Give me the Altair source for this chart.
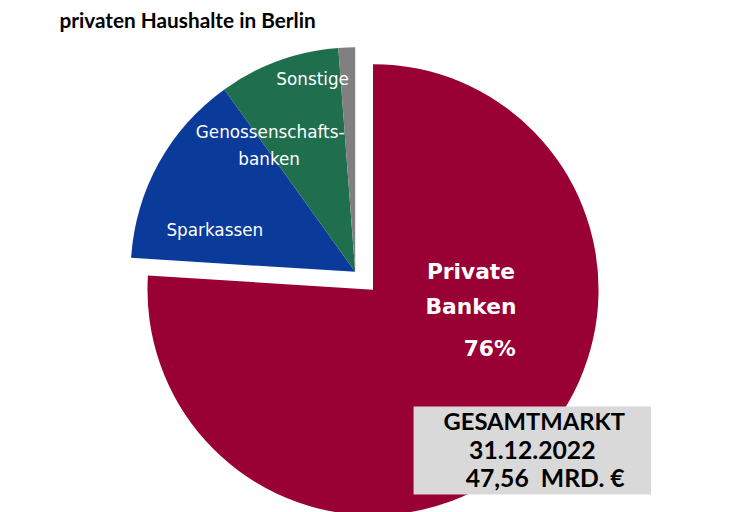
import altair as alt
import pandas as pd

categories = ["Private Banken", "Sparkassen", "Genossenschaftsbanken", "Sonstige"]
shares = [76.0, 14.1, 8.7, 1.2]
colors = ["#990033", "#0a3a9a", "#1f6e4e", "#808080"]
exploded = [False, True, True, True]

title_text = "privaten Haushalte in Berlin"
box_lines = ["GESAMTMARKT", "31.12.2022", "47,56\u00a0\u00a0MRD. €"]

ends = pd.Series(shares).cumsum()
starts = ends - pd.Series(shares)
df = pd.DataFrame({"cat": categories, "start": starts, "end": ends, "exploded": exploded})

theta_scale = alt.Scale(domain=[0, 100], range=[0, 6.283185307])
color = alt.Color("cat:N", scale=alt.Scale(domain=categories, range=colors), legend=None)

red = alt.Chart(df[~df.exploded]).mark_arc(outerRadius=228).encode(
    theta=alt.Theta("start:Q", scale=theta_scale),
    theta2="end:Q",
    color=color,
    x=alt.value(369),
    y=alt.value(282),
)

exp = alt.Chart(df[df.exploded]).mark_arc(outerRadius=227).encode(
    theta=alt.Theta("start:Q", scale=theta_scale),
    theta2="end:Q",
    color=color,
    x=alt.value(351),
    y=alt.value(264),
)

def txt(s, x, y, size, weight="normal", col="white", font="DejaVu Sans"):
    return alt.Chart(pd.DataFrame({"t": [s]})).mark_text(
        font=font, fontSize=size, fontWeight=weight, color=col,
        align="center", baseline="middle"
    ).encode(text="t:N", x=alt.value(x), y=alt.value(y))

title = alt.Chart(pd.DataFrame({"t": [title_text]})).mark_text(
    font="Lato", fontSize=21, fontWeight="bold", color="black",
    align="left", baseline="alphabetic"
).encode(text="t:N", x=alt.value(52), y=alt.value(17))

box = alt.Chart(pd.DataFrame({"a": [0]})).mark_rect(color="#d9d9d9").encode(
    x=alt.value(410), x2=alt.value(650), y=alt.value(400), y2=alt.value(489)
)

layers = [
    red, exp, title,
    txt("Private", 468, 264, 22, "bold"),
    txt("Banken", 468, 300, 22, "bold"),
    txt("76%", 487, 342, 22, "bold"),
    txt("Sonstige", 308, 70, 17),
    txt("Genossenschafts-", 265, 124, 17),
    txt("banken", 264, 151, 17),
    txt("Sparkassen", 209, 223, 17),
    box,
    txt(box_lines[0], 532, 417, 24, "bold", col="black", font="Lato"),
    txt(box_lines[1], 530, 445, 25, "bold", col="black", font="Lato"),
    txt(box_lines[2], 543, 473, 25, "bold", col="black", font="Lato"),
]

chart = alt.layer(*layers).properties(
    width=740, height=504, padding=0, autosize=alt.AutoSizeParams(type="none")
).configure_view(stroke=None)

chart.save("out.html", embed_options={"renderer": "svg", "actions": False})
